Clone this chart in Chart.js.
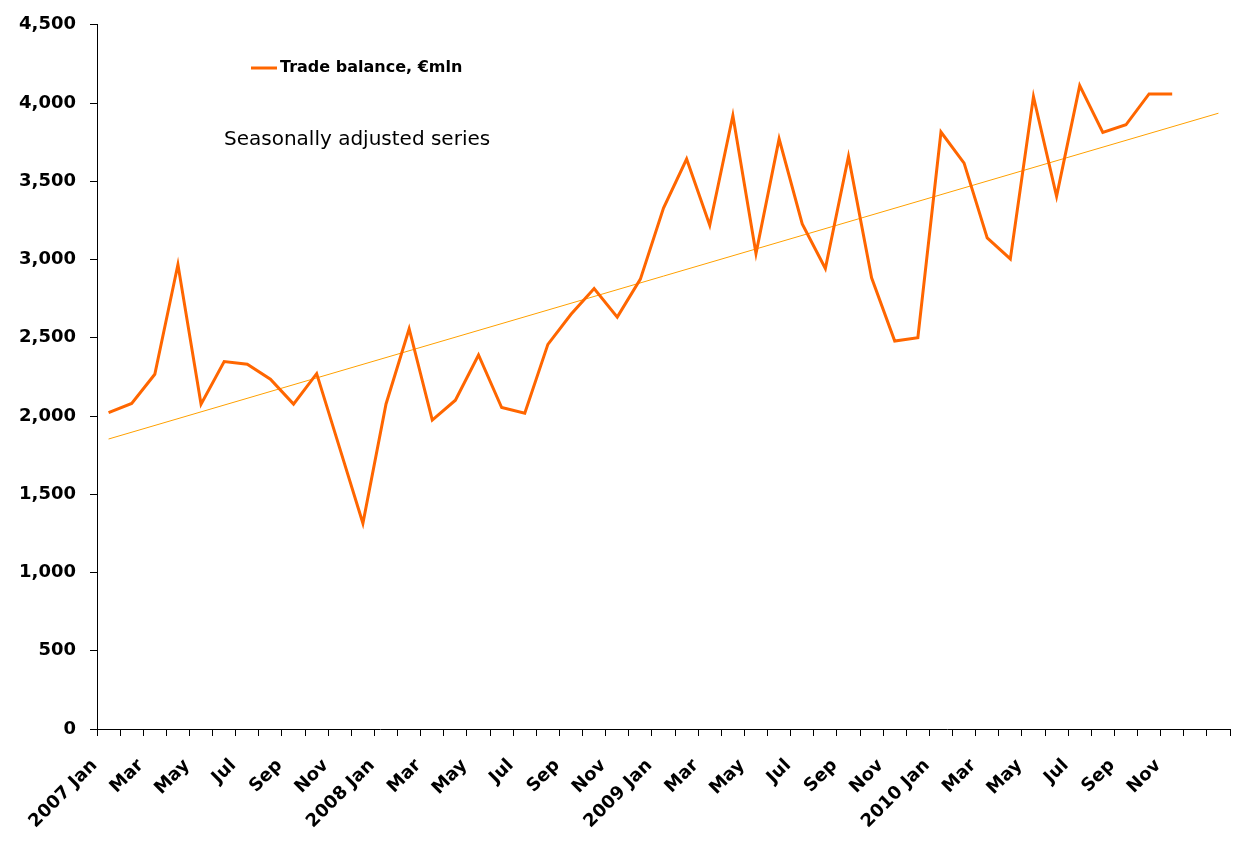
<!DOCTYPE html>
<html>
<head>
<meta charset="utf-8">
<script src="https://cdn.jsdelivr.net/npm/chart.js@4"></script>
<style>
  body { margin: 0; background: #fff; }
  #wrap { width: 1240px; height: 856px; }
</style>
</head>
<body>
<div id="wrap"><canvas id="line-chart" width="1240" height="856"></canvas></div>
<script>
// categories: monthly, Jan 2007 .. Dec 2010, plus one blank slot at the end
var months = [
  '2007 Jan', 'Feb', 'Mar', 'Apr', 'May', 'Jun', 'Jul', 'Aug', 'Sep', 'Oct', 'Nov', 'Dec',
  '2008 Jan', 'Feb', 'Mar', 'Apr', 'May', 'Jun', 'Jul', 'Aug', 'Sep', 'Oct', 'Nov', 'Dec',
  '2009 Jan', 'Feb', 'Mar', 'Apr', 'May', 'Jun', 'Jul', 'Aug', 'Sep', 'Oct', 'Nov', 'Dec',
  '2010 Jan', 'Feb', 'Mar', 'Apr', 'May', 'Jun', 'Jul', 'Aug', 'Sep', 'Oct', 'Nov', 'Dec',
  ''
];

// trade balance, seasonally adjusted, EUR mln
var tradeBalance = [
  2022, 2080, 2267, 2968, 2076, 2348, 2331, 2235, 2076, 2271, 1793, 1315,
  2077, 2558, 1974, 2101, 2390, 2054, 2018, 2458, 2650, 2815, 2632, 2875,
  3329, 3642, 3219, 3920, 3038, 3771, 3227, 2943, 3659, 2883, 2479, 2500,
  3815, 3616, 3138, 3004, 4041, 3404, 4111, 3812, 3861, 4058, 4058
];

// linear trend: start and end points only (category index, value)
var trendIndex = [0, 48];
var trendValues = [1853, 3935];

var yMin = 0;
var yMax = 4500;
var yStep = 500;

var seriesLabel = 'Trade balance, \u20acmln';
var noteText = 'Seasonally adjusted series';

var trendPoints = trendIndex.map((idx, i) => ({ x: idx, y: trendValues[i] }));

// legend + note drawn straight on the canvas, where the original has them
const notesPlugin = {
  id: 'notes',
  afterDraw(chart) {
    const ctx = chart.ctx;
    ctx.save();
    ctx.strokeStyle = chart.data.datasets[0].borderColor;
    ctx.lineWidth = 3;
    ctx.beginPath();
    ctx.moveTo(251, 68);
    ctx.lineTo(277, 68);
    ctx.stroke();
    ctx.fillStyle = '#000';
    ctx.textBaseline = 'middle';
    ctx.textAlign = 'left';
    ctx.font = 'bold 16px "DejaVu Sans"';
    ctx.fillText(chart.data.datasets[0].label, 280, 68);
    ctx.font = '20px "DejaVu Sans"';
    ctx.fillText(noteText, 224, 140);
    ctx.restore();
  }
};

const config = {
  type: 'line',
  data: {
    labels: months,
    datasets: [
      {
        label: seriesLabel,
        data: tradeBalance,
        borderColor: '#FF6600',
        backgroundColor: '#FF6600',
        borderWidth: 3,
        pointRadius: 0,
        tension: 0,
        order: 1
      }, {
        label: 'Trend',
        data: trendPoints,
        parsing: false,
        borderColor: '#FFA000',
        backgroundColor: '#FFA000',
        borderWidth: 1,
        pointRadius: 0,
        order: 2
      }
    ]
  },
  options: {
    responsive: false,
    animation: false,
    devicePixelRatio: 1,
    layout: { padding: { top: 23, right: 10, left: 0, bottom: 0 } },
    plugins: {
      legend: { display: false },
      tooltip: { enabled: false }
    },
    scales: {
      x: {
        type: 'category',
        offset: true,
        afterFit: (scale) => {
          scale.height = 127;
          scale.paddingLeft = 0;
          scale.paddingRight = 0;
        },
        grid: {
          offset: true,
          drawOnChartArea: false,
          drawTicks: true,
          tickLength: 7,
          color: '#000'
        },
        border: { display: true, color: '#000', width: 1 },
        ticks: {
          autoSkip: false,
          maxRotation: 45,
          minRotation: 45,
          padding: 19,
          labelOffset: -14,
          color: '#000',
          font: { family: 'DejaVu Sans', size: 18, weight: 'bold' },
          callback: function (value, index) {
            return index % 2 === 0 ? this.getLabelForValue(value) : '';
          }
        }
      },
      y: {
        min: yMin,
        max: yMax,
        afterFit: (scale) => { scale.width = 97; },
        grid: {
          drawOnChartArea: false,
          drawTicks: true,
          tickLength: 7,
          color: '#000'
        },
        border: { display: true, color: '#000', width: 1 },
        ticks: {
          stepSize: yStep,
          padding: 14,
          color: '#000',
          font: { family: 'DejaVu Sans', size: 18, weight: 'bold' }
        }
      }
    }
  },
  plugins: [notesPlugin]
};

var lineChart = new Chart(document.getElementById('line-chart').getContext('2d'), config);
</script>
</body>
</html>
